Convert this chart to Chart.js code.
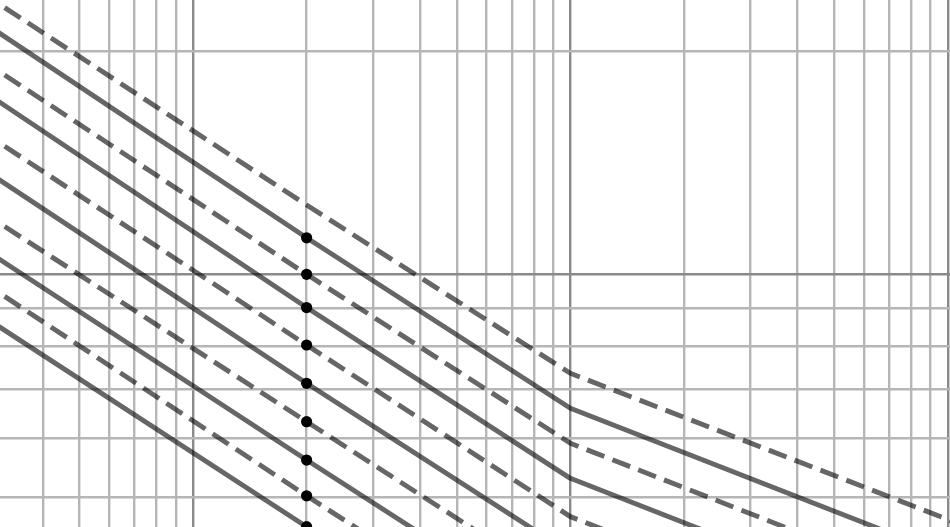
<!DOCTYPE html>
<html>
<head>
<meta charset="utf-8">
<script src="https://cdn.jsdelivr.net/npm/chart.js@4/dist/chart.umd.min.js"></script>
<style>
  html, body { margin: 0; padding: 0; background: #ffffff; }
  #wrap { width: 950px; height: 527px; }
</style>
</head>
<body>
<div id="wrap"><canvas id="c" width="950" height="527"></canvas></div>
<script>
// x positions where each curve was read (log axis)
const xPoints = [0.3, 2, 10, 105];

// curves (top to bottom), values at xPoints
const curve1 = [2.33, 1.239, 0.7345, 0.462];   // dashed
const curve2 = [2.13, 1.119, 0.659, 0.413];    // solid
const curve3 = [1.89, 0.999, 0.591, 0.370];    // dashed
const curve4 = [1.72, 0.901, 0.530, 0.332];    // solid
const curve5 = [1.515, 0.802, 0.4705, 0.295];  // dashed
const curve6 = [1.35, 0.712, 0.420, 0.263];    // solid
const curve7 = [1.18, 0.632, 0.373, 0.234];    // dashed
const curve8 = [1.055, 0.561, 0.331, 0.208];   // solid
const curve9 = [0.95, 0.502, 0.296, 0.186];    // dashed
const curve10 = [0.855, 0.456, 0.269, 0.169];  // solid

const curves = [curve1, curve2, curve3, curve4, curve5, curve6, curve7, curve8, curve9, curve10];
const curveDashed = [true, false, true, false, true, false, true, false, true, false];

// marked points
const dotX = 2;
const dotValues = [1.119, 0.999, 0.901, 0.802, 0.712, 0.632, 0.561, 0.502, 0.456];

// grid tick values
const xTicks = [0.4, 0.5, 0.6, 0.7, 0.8, 0.9, 1, 2, 3, 4, 5, 6, 7, 8, 9, 10, 20, 30, 40, 50, 60, 70, 80, 90, 100];
const yTicks = [0.5, 0.6, 0.7, 0.8, 0.9, 1, 2];
const majorTicks = [1, 10, 100];

// visible ranges
const xRange = [0.308, 101.4];
const yRange = [0.4556, 2.343];

const LINE_COLOR = 'rgba(0,0,0,0.6)';
const GRID_MINOR = '#b6b6b6';
const GRID_MAJOR = '#8a8a8a';

const datasets = [];
datasets.push({
  type: 'scatter',
  data: dotValues.map(v => ({ x: dotX, y: v })),
  pointRadius: 5.6,
  pointBackgroundColor: '#000000',
  pointBorderWidth: 0,
  showLine: false
});
curves.forEach((vals, i) => {
  datasets.push({
    type: 'line',
    data: vals.map((v, j) => ({ x: xPoints[j], y: v })),
    borderColor: LINE_COLOR,
    borderWidth: 4.9,
    borderDash: curveDashed[i] ? [19, 8.7] : [],
    borderDashOffset: 17,
    borderCapStyle: 'butt',
    borderJoinStyle: 'round',
    pointRadius: 0,
    fill: false,
    tension: 0
  });
});

function gridColor(ctx) {
  const v = ctx.tick ? ctx.tick.value : null;
  return majorTicks.some(m => Math.abs(m - v) < 1e-9) ? GRID_MAJOR : GRID_MINOR;
}

new Chart(document.getElementById('c'), {
  data: { datasets },
  options: {
    responsive: false,
    devicePixelRatio: 1,
    animation: false,
    layout: { padding: 0, autoPadding: false },
    plugins: { legend: { display: false }, tooltip: { enabled: false } },
    scales: {
      x: {
        type: 'logarithmic',
        min: xRange[0], max: xRange[1],
        bounds: 'data',
        afterBuildTicks: (s) => { s.ticks = xTicks.map(v => ({ value: v })); },
        ticks: { display: false },
        border: { display: false },
        grid: { drawTicks: false, lineWidth: 2.4, color: gridColor }
      },
      y: {
        type: 'logarithmic',
        min: yRange[0], max: yRange[1],
        bounds: 'data',
        afterBuildTicks: (s) => { s.ticks = yTicks.map(v => ({ value: v })); },
        ticks: { display: false },
        border: { display: false },
        grid: { drawTicks: false, lineWidth: 2.4, color: gridColor }
      }
    }
  }
});
</script>
</body>
</html>
